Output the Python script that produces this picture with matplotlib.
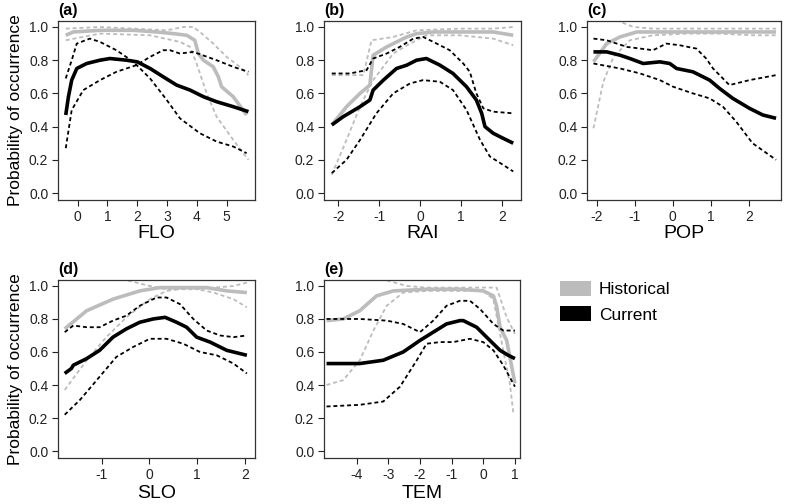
import matplotlib
matplotlib.use("Agg")
import matplotlib.pyplot as plt
from matplotlib.patches import Patch

plt.rcParams['font.family'] = ['Liberation Sans', 'DejaVu Sans']

# ---- panel (a) FLO ----
flo_cur_x = [-0.40, -0.31, -0.2, -0.03, 0.3, 0.75, 1.08, 1.64, 2.0, 2.43, 2.87, 3.32, 3.77, 4.22, 4.66, 5.22, 5.73]
flo_cur_y = [0.47, 0.58, 0.68, 0.75, 0.78, 0.80, 0.81, 0.80, 0.79, 0.75, 0.70, 0.65, 0.62, 0.58, 0.55, 0.52, 0.49]
flo_cur_b1_x = [-0.40, -0.2, -0.03, 0.41, 0.75, 1.3, 1.87, 2.43, 2.99, 3.43, 4.1, 4.66, 5.22, 5.67]
flo_cur_b1_y = [0.69, 0.80, 0.90, 0.93, 0.91, 0.86, 0.79, 0.69, 0.56, 0.45, 0.36, 0.31, 0.28, 0.24]
flo_cur_b2_x = [-0.40, -0.2, 0.19, 0.75, 1.3, 1.97, 2.43, 2.87, 3.1, 3.43, 3.88, 4.66, 5.22, 5.73]
flo_cur_b2_y = [0.27, 0.50, 0.62, 0.68, 0.73, 0.77, 0.82, 0.86, 0.86, 0.84, 0.85, 0.80, 0.76, 0.73]
flo_his_x = [-0.40, -0.15, 0.75, 1.87, 2.65, 3.21, 3.66, 3.93, 4.05, 4.22, 4.55, 4.72, 4.83, 5.22, 5.67]
flo_his_y = [0.95, 0.97, 0.98, 0.98, 0.97, 0.96, 0.95, 0.92, 0.84, 0.80, 0.76, 0.70, 0.64, 0.58, 0.47]
flo_his_b1_x = [-0.40, 0.75, 1.87, 2.99, 3.55, 3.88, 4.1, 4.55, 5.0, 5.44, 5.73]
flo_his_b1_y = [0.99, 1.00, 0.99, 0.98, 1.00, 1.00, 0.97, 0.90, 0.82, 0.76, 0.71]
flo_his_b2_x = [-0.40, 0.75, 2.43, 3.43, 3.77, 3.99, 4.33, 4.66, 5.22, 5.73]
flo_his_b2_y = [0.92, 0.96, 0.95, 0.91, 0.88, 0.78, 0.60, 0.46, 0.32, 0.20]

# ---- panel (b) RAI ----
rai_cur_x = [-2.16, -1.88, -1.47, -1.23, -1.15, -0.9, -0.58, -0.33, -0.09, 0.15, 0.48, 0.8, 1.13, 1.37, 1.5, 1.58, 1.78, 2.02, 2.27]
rai_cur_y = [0.41, 0.46, 0.52, 0.56, 0.62, 0.68, 0.75, 0.77, 0.80, 0.81, 0.77, 0.72, 0.64, 0.56, 0.48, 0.40, 0.36, 0.33, 0.30]
rai_cur_b1_x = [-2.16, -1.72, -1.31, -1.15, -0.82, -0.5, -0.17, 0.07, 0.32, 0.72, 1.05, 1.21, 1.37, 1.54, 1.78, 2.27]
rai_cur_b1_y = [0.72, 0.72, 0.74, 0.81, 0.84, 0.88, 0.93, 0.94, 0.91, 0.86, 0.78, 0.73, 0.60, 0.51, 0.49, 0.48]
rai_cur_b2_x = [-2.16, -1.8, -1.47, -1.07, -0.66, -0.25, 0.07, 0.48, 0.8, 1.13, 1.46, 1.7, 2.02, 2.27]
rai_cur_b2_y = [0.12, 0.20, 0.32, 0.48, 0.60, 0.66, 0.68, 0.67, 0.62, 0.50, 0.32, 0.22, 0.17, 0.13]
rai_his_x = [-2.16, -1.8, -1.47, -1.23, -1.15, -0.82, -0.33, -0.09, 0.32, 0.97, 1.78, 2.27]
rai_his_y = [0.41, 0.52, 0.60, 0.65, 0.83, 0.88, 0.94, 0.96, 0.97, 0.97, 0.97, 0.95]
rai_his_b1_x = [-2.16, -1.39, -1.19, -0.66, -0.09, 0.97, 1.78, 2.27]
rai_his_b1_y = [0.71, 0.71, 0.92, 0.94, 0.98, 0.99, 0.99, 1.00]
rai_his_b2_x = [-2.16, -1.8, -1.47, -1.15, -0.66, -0.25, 0.15, 0.95, 1.78, 2.27]
rai_his_b2_y = [0.11, 0.32, 0.52, 0.68, 0.84, 0.90, 0.95, 0.95, 0.93, 0.89]

# ---- panel (c) POP ----
pop_cur_x = [-2.09, -1.74, -1.39, -1.13, -0.78, -0.34, -0.08, 0.1, 0.53, 0.97, 1.23, 1.58, 2.02, 2.37, 2.72]
pop_cur_y = [0.85, 0.85, 0.83, 0.81, 0.78, 0.79, 0.78, 0.75, 0.73, 0.68, 0.63, 0.57, 0.51, 0.47, 0.45]
pop_cur_b1_x = [-2.09, -1.74, -1.21, -0.86, -0.52, -0.17, 0.18, 0.62, 0.88, 1.06, 1.32, 1.49, 2.02, 2.72]
pop_cur_b1_y = [0.93, 0.92, 0.88, 0.87, 0.86, 0.90, 0.89, 0.87, 0.81, 0.75, 0.69, 0.65, 0.68, 0.71]
pop_cur_b2_x = [-2.09, -1.39, -0.86, -0.34, 0.01, 0.53, 0.97, 1.32, 1.67, 2.1, 2.72]
pop_cur_b2_y = [0.78, 0.75, 0.72, 0.68, 0.64, 0.60, 0.57, 0.52, 0.43, 0.30, 0.20]
pop_his_x = [-2.09, -1.74, -1.39, -0.95, -0.52, 0.35, 1.22, 2.1, 2.72]
pop_his_y = [0.79, 0.90, 0.94, 0.97, 0.97, 0.97, 0.97, 0.97, 0.97]
pop_his_b1_x = [-1.75, -1.48, -1.04, -0.52, 0.35, 1.22, 2.1, 2.72]
pop_his_b1_y = [1.10, 1.04, 1.00, 0.99, 0.99, 0.99, 0.99, 0.99]
pop_his_b2_x = [-2.09, -1.83, -1.56, -1.13, -0.52, 0.35, 1.22, 2.1, 2.72]
pop_his_b2_y = [0.39, 0.67, 0.82, 0.92, 0.95, 0.96, 0.96, 0.95, 0.95]

# ---- panel (d) SLO ----
slo_cur_x = [-1.77, -1.63, -1.59, -1.31, -1.04, -0.76, -0.48, -0.2, 0.08, 0.33, 0.57, 0.78, 0.99, 1.27, 1.62, 2.04]
slo_cur_y = [0.47, 0.50, 0.52, 0.56, 0.61, 0.69, 0.74, 0.78, 0.80, 0.81, 0.78, 0.75, 0.69, 0.66, 0.61, 0.58]
slo_cur_b1_x = [-1.77, -1.59, -1.31, -1.04, -0.76, -0.48, -0.2, 0.15, 0.36, 0.64, 0.92, 1.2, 1.48, 1.76, 2.04]
slo_cur_b1_y = [0.72, 0.76, 0.75, 0.75, 0.79, 0.82, 0.88, 0.93, 0.93, 0.89, 0.80, 0.73, 0.70, 0.69, 0.70]
slo_cur_b2_x = [-1.77, -1.45, -1.04, -0.69, -0.34, 0.01, 0.36, 0.71, 1.06, 1.41, 1.76, 2.04]
slo_cur_b2_y = [0.22, 0.31, 0.45, 0.57, 0.63, 0.68, 0.68, 0.65, 0.60, 0.58, 0.53, 0.47]
slo_his_x = [-1.77, -1.31, -0.76, -0.2, 0.22, 0.71, 1.2, 1.62, 2.04]
slo_his_y = [0.74, 0.85, 0.92, 0.97, 0.99, 0.99, 0.99, 0.97, 0.96]
slo_his_b1_x = [-0.7, -0.55, 0.01, 0.36, 0.99, 1.76, 2.04]
slo_his_b1_y = [1.07, 1.04, 1.00, 0.98, 0.98, 1.00, 1.02]
slo_his_b2_x = [-1.77, -1.31, -0.9, -0.48, 0.01, 0.36, 0.85, 1.34, 1.76, 2.04]
slo_his_b2_y = [0.37, 0.55, 0.69, 0.81, 0.92, 0.97, 0.99, 0.96, 0.92, 0.87]

# ---- panel (e) TEM ----
tem_cur_x = [-4.95, -3.9, -3.16, -2.53, -2.0, -1.58, -1.16, -0.74, -0.63, -0.21, 0.21, 0.53, 0.79, 1.0]
tem_cur_y = [0.53, 0.53, 0.55, 0.60, 0.67, 0.72, 0.77, 0.79, 0.79, 0.75, 0.67, 0.61, 0.58, 0.56]
tem_cur_b1_x = [-4.95, -3.9, -3.05, -2.53, -2.0, -1.58, -1.16, -0.74, -0.42, -0.1, 0.32, 0.63, 1.0]
tem_cur_b1_y = [0.80, 0.80, 0.79, 0.77, 0.72, 0.79, 0.88, 0.91, 0.91, 0.86, 0.77, 0.73, 0.73]
tem_cur_b2_x = [-4.95, -3.9, -3.16, -2.63, -2.1, -1.79, -1.37, -0.95, -0.42, 0.0, 0.32, 0.63, 1.0]
tem_cur_b2_y = [0.27, 0.28, 0.30, 0.39, 0.55, 0.65, 0.66, 0.66, 0.68, 0.66, 0.61, 0.52, 0.39]
tem_his_x = [-4.95, -4.42, -3.9, -3.37, -2.84, -1.79, -0.74, 0.0, 0.32, 0.42, 0.53, 0.74, 1.0]
tem_his_y = [0.79, 0.80, 0.85, 0.94, 0.97, 0.98, 0.98, 0.97, 0.94, 0.88, 0.75, 0.67, 0.41]
tem_his_b1_x = [-3.4, -3.16, -2.42, -1.79, -0.74, 0.42, 0.74, 1.0]
tem_his_b1_y = [1.08, 1.04, 1.00, 0.99, 0.99, 0.99, 0.81, 0.71]
tem_his_b2_x = [-4.95, -4.42, -3.9, -3.47, -3.05, -2.53, -1.79, 0.0, 0.32, 0.63, 0.84, 0.95]
tem_his_b2_y = [0.40, 0.43, 0.55, 0.73, 0.88, 0.96, 0.97, 0.97, 0.92, 0.61, 0.41, 0.23]

grey = '#bcbcbc'
dots = (0, (2.2, 1.6))


def draw_panel(ax, his, cur, letter, xlabel, xlim, xticks, ylab, xpad):
    # historical (grey) first, then current (black) on top
    ax.plot(his[2], his[3], color=grey, lw=1.3, ls=dots)
    ax.plot(his[4], his[5], color=grey, lw=1.3, ls=dots)
    ax.plot(his[0], his[1], color=grey, lw=2.6, solid_capstyle='butt')
    ax.plot(cur[2], cur[3], color='black', lw=1.3, ls=dots)
    ax.plot(cur[4], cur[5], color='black', lw=1.3, ls=dots)
    ax.plot(cur[0], cur[1], color='black', lw=2.6, solid_capstyle='butt')
    ax.set_xlim(xlim)
    ax.set_ylim(-0.042, 1.036)
    ax.set_xticks(xticks)
    ax.set_xticklabels([str(t) for t in xticks])
    ax.set_yticks([0, 0.2, 0.4, 0.6, 0.8, 1.0])
    ax.set_yticklabels(['0.0', '0.2', '0.4', '0.6', '0.8', '1.0'])
    ax.tick_params(direction='out', length=4, width=0.8, labelsize=10, colors='#222222', pad=3)
    for s in ax.spines.values():
        s.set_linewidth(0.9)
        s.set_color('#333333')
    ax.set_xlabel(xlabel, fontsize=14, labelpad=xpad)
    if ylab:
        ax.set_ylabel('Probability of occurrence', fontsize=12.5, labelpad=4)
    ax.text(0.0, 1.015, letter, transform=ax.transAxes, fontsize=11.5, fontweight='bold',
            ha='left', va='bottom')


W, H = 785, 504
fig = plt.figure(figsize=(W / 100, H / 100), dpi=100)


def add_axes(left, right, top, bottom):
    return fig.add_axes([left / W, 1 - bottom / H, (right - left) / W, (bottom - top) / H])


ax_a = add_axes(58, 255, 21, 200)
ax_b = add_axes(324, 521, 21, 200)
ax_c = add_axes(587, 781, 21, 200)
ax_d = add_axes(58, 255, 280, 458)
ax_e = add_axes(324, 520, 280, 458)

draw_panel(ax_a, [flo_his_x, flo_his_y, flo_his_b1_x, flo_his_b1_y, flo_his_b2_x, flo_his_b2_y],
           [flo_cur_x, flo_cur_y, flo_cur_b1_x, flo_cur_b1_y, flo_cur_b2_x, flo_cur_b2_y],
           '(a)', 'FLO', (-0.66, 5.95), [0, 1, 2, 3, 4, 5], True, 1.0)
draw_panel(ax_b, [rai_his_x, rai_his_y, rai_his_b1_x, rai_his_b1_y, rai_his_b2_x, rai_his_b2_y],
           [rai_cur_x, rai_cur_y, rai_cur_b1_x, rai_cur_b1_y, rai_cur_b2_x, rai_cur_b2_y],
           '(b)', 'RAI', (-2.35, 2.46), [-2, -1, 0, 1, 2], False, 1.0)
draw_panel(ax_c, [pop_his_x, pop_his_y, pop_his_b1_x, pop_his_b1_y, pop_his_b2_x, pop_his_b2_y],
           [pop_cur_x, pop_cur_y, pop_cur_b1_x, pop_cur_b1_y, pop_cur_b2_x, pop_cur_b2_y],
           '(c)', 'POP', (-2.26, 2.85), [-2, -1, 0, 1, 2], False, 1.0)
draw_panel(ax_d, [slo_his_x, slo_his_y, slo_his_b1_x, slo_his_b1_y, slo_his_b2_x, slo_his_b2_y],
           [slo_cur_x, slo_cur_y, slo_cur_b1_x, slo_cur_b1_y, slo_cur_b2_x, slo_cur_b2_y],
           '(d)', 'SLO', (-1.91, 2.21), [-1, 0, 1, 2], True, 2.0)
draw_panel(ax_e, [tem_his_x, tem_his_y, tem_his_b1_x, tem_his_b1_y, tem_his_b2_x, tem_his_b2_y],
           [tem_cur_x, tem_cur_y, tem_cur_b1_x, tem_cur_b1_y, tem_cur_b2_x, tem_cur_b2_y],
           '(e)', 'TEM', (-5.03, 1.16), [-4, -3, -2, -1, 0, 1], False, 2.0)

handles = [Patch(facecolor=grey, edgecolor='none', label='Historical'),
           Patch(facecolor='black', edgecolor='none', label='Current')]
fig.legend(handles=handles, loc='upper left', bbox_to_anchor=(560 / W, 1 - 281 / H),
           frameon=False, fontsize=12.5, handlelength=1.8, handleheight=0.95,
           handletextpad=0.45, labelspacing=0.5, borderpad=0, borderaxespad=0)

fig.savefig('out.png', dpi=100)
